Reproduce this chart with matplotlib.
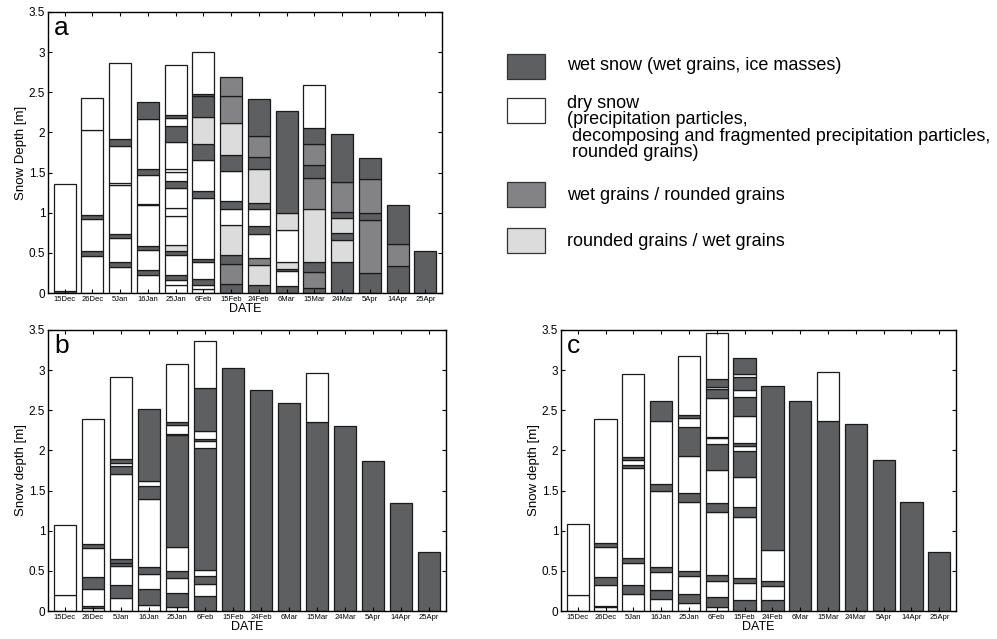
import numpy as np
import matplotlib
matplotlib.use("Agg")
import matplotlib.pyplot as plt
from matplotlib.patches import Rectangle
from matplotlib.ticker import FormatStrFormatter

plt.rcParams['font.family'] = ['Liberation Sans', 'DejaVu Sans']

# dates of the snow pit observations
dates = ["15Dec", "26Dec", "5Jan", "16Jan", "25Jan", "6Feb", "15Feb", "24Feb",
         "6Mar", "15Mar", "24Mar", "5Apr", "14Apr", "25Apr"]

# layer tops [m] from the ground and layer classes per date
# W = wet snow, D = dry snow, G = wet grains / rounded grains, L = rounded grains / wet grains
a_tops = [
    [0.03, 1.36],
    [0.465, 0.52, 0.925, 0.97, 2.03, 2.43],
    [0.33, 0.38, 0.69, 0.73, 1.34, 1.37, 1.83, 1.92, 2.87],
    [0.23, 0.29, 0.53, 0.59, 1.09, 1.11, 1.47, 1.55, 2.17, 2.38],
    [0.1, 0.16, 0.23, 0.47, 0.52, 0.6, 0.96, 1.06, 1.31, 1.39, 1.51, 1.54, 1.88, 2.08, 2.18, 2.22, 2.84],
    [0.05, 0.1, 0.17, 0.39, 0.42, 1.18, 1.27, 1.66, 1.86, 2.19, 2.45, 2.48, 3.0],
    [0.11, 0.36, 0.47, 0.85, 1.05, 1.14, 1.52, 1.72, 2.12, 2.45, 2.69],
    [0.1, 0.35, 0.44, 0.74, 0.84, 1.05, 1.12, 1.54, 1.70, 1.96, 2.42],
    [0.09, 0.27, 0.3, 0.38, 0.78, 1.0, 2.27],
    [0.06, 0.26, 0.39, 1.05, 1.43, 1.59, 1.85, 2.05, 2.59],
    [0.38, 0.66, 0.75, 0.93, 1.01, 1.38, 1.98],
    [0.245, 0.91, 1.0, 1.42, 1.68],
    [0.335, 0.61, 1.09],
    [0.52],
]
a_types = ["WD", "DWDWDD", "DWDWDDDWD", "DWDWDDDWDW", "DDWDWLDDDWDDDWDWD",
           "DDWDWDWDWLWWD", "WGWLDWDWLGG", "WLGDWDWLWGW", "WDWLDLW",
           "WGWLGWGWD", "WLWLWGW", "WGWGW", "WGW", "W"]

b_tops = [
    [0.2, 1.075],
    [0.04, 0.066, 0.28, 0.42, 0.78, 0.83, 2.39],
    [0.16, 0.32, 0.565, 0.595, 0.65, 1.71, 1.81, 1.84, 1.89, 2.91],
    [0.075, 0.27, 0.46, 0.55, 1.39, 1.56, 1.62, 2.51],
    [0.045, 0.23, 0.415, 0.5, 0.8, 2.19, 2.21, 2.32, 2.35, 3.08],
    [0.19, 0.34, 0.44, 0.51, 2.03, 2.12, 2.14, 2.24, 2.78, 3.36],
    [3.03],
    [2.75],
    [2.585],
    [2.35, 2.96],
    [2.30],
    [1.87],
    [1.35],
    [0.73],
]
b_types = ["DD", "DWDWDWD", "DWDWWDWDWD", "DWDWDWDW", "DWDWDWWDWD",
           "WDWDWDWDWD", "W", "W", "W", "WD", "W", "W", "W", "W"]

c_tops = [
    [0.195, 1.08],
    [0.045, 0.066, 0.32, 0.42, 0.8, 0.85, 2.39],
    [0.21, 0.32, 0.6, 0.66, 1.78, 1.82, 1.88, 1.92, 2.95],
    [0.145, 0.26, 0.485, 0.55, 1.5, 1.58, 2.37, 2.61],
    [0.1, 0.21, 0.43, 0.5, 1.36, 1.47, 1.93, 2.29, 2.41, 2.44, 3.17],
    [0.046, 0.17, 0.37, 0.45, 1.23, 1.35, 1.755, 2.075, 2.15, 2.17, 2.656, 2.76, 2.79, 2.884, 3.465],
    [0.137, 0.344, 0.407, 1.17, 1.29, 1.664, 1.99, 2.054, 2.087, 2.43, 2.668, 2.75, 2.92, 2.946, 3.153],
    [0.137, 0.315, 0.378, 0.76, 2.8],
    [2.62],
    [2.37, 2.98],
    [2.33],
    [1.88],
    [1.36],
    [0.74],
]
c_types = ["DD", "DWDWDWD", "DWDWDWDWD", "DWDWDWDW", "DWDWDWDWDWD",
           "DWDWDWDWDWDWDWD", "WDWDWDWDWDWDWDW", "WDWDW", "W", "WD", "W", "W", "W", "W"]

colors = {"W": "#5e5f61", "D": "white", "G": "#838385", "L": "#dcdcdd"}

legend_labels = ["wet snow (wet grains, ice masses)",
                 "dry snow\n(precipitation particles,\n decomposing and fragmented precipitation particles,\n rounded grains)",
                 "wet grains / rounded grains",
                 "rounded grains / wet grains"]
legend_keys = ["W", "D", "G", "L"]

W, H = 997, 639
fig = plt.figure(figsize=(W / 100, H / 100), dpi=100)


def px_axes(x0, y0, x1, y1):
    return fig.add_axes([x0 / W, 1 - y1 / H, (x1 - x0) / W, (y1 - y0) / H])


def draw_panel(ax, tops, types, letter, ylabel):
    x = np.arange(1, len(dates) + 1)
    for i, (t, k) in enumerate(zip(tops, types)):
        bottoms = [0] + t[:-1]
        for b, tp, c in zip(bottoms, t, k):
            ax.bar(x[i], tp - b, bottom=b, width=0.8, color=colors[c],
                   edgecolor="#1a1a1a", linewidth=0.9)
    ax.set_xlim(0.4, 14.6)
    ax.set_ylim(0, 3.5)
    ax.set_xticks(x)
    ax.set_xticklabels(dates, fontsize=5.5)
    ax.set_yticks(np.arange(0, 3.51, 0.5))
    ax.yaxis.set_major_formatter(FormatStrFormatter('%g'))
    ax.tick_params(axis='y', labelsize=8.5, pad=2)
    ax.tick_params(axis='x', pad=2)
    ax.tick_params(direction='in', top=True, right=True, length=3, width=0.8)
    ax.set_xlabel("DATE", fontsize=9, labelpad=0)
    ax.set_ylabel(ylabel, fontsize=9.5, labelpad=1)
    ax.text(0.015, 0.985, letter, transform=ax.transAxes, fontsize=19,
            va='top', ha='left')
    for s in ax.spines.values():
        s.set_linewidth(1.0)


ax_a = px_axes(48, 12, 442, 293)
draw_panel(ax_a, a_tops, a_types, "a", "Snow Depth [m]")
ax_b = px_axes(48, 330, 446, 611)
draw_panel(ax_b, b_tops, b_types, "b", "Snow depth [m]")
ax_c = px_axes(561, 330, 956, 611)
draw_panel(ax_c, c_tops, c_types, "c", "Snow depth [m]")

# legend drawn in figure pixel coordinates
leg = px_axes(0, 0, W, H)
leg.set_xlim(0, W)
leg.set_ylim(H, 0)
leg.axis('off')
box_y = [54, 98, 182, 228]
text_y = [66, 95, 195, 241]
for k, lab, by, ty in zip(legend_keys, legend_labels, box_y, text_y):
    leg.add_patch(Rectangle((507, by), 38, 25, facecolor=colors[k],
                            edgecolor="#333333", linewidth=0.9))
    if "\n" in lab:
        leg.text(567, ty, lab, fontsize=13, va='top', ha='left', linespacing=0.95)
    else:
        leg.text(567, ty, lab, fontsize=13, va='center', ha='left')

fig.savefig("out.png", dpi=100)
